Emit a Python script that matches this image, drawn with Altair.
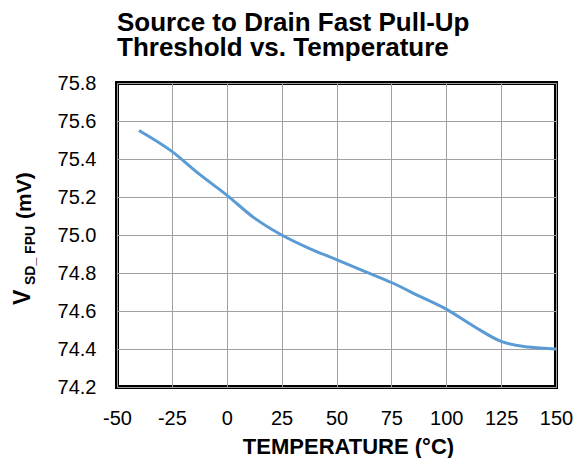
import altair as alt
import pandas as pd

temps = [-40, -25, -12.5, 0, 12.5, 25, 37.5, 50, 62.5, 75, 87.5, 100, 112.5, 125, 137.5, 150]
vsd = [75.55, 75.44, 75.32, 75.21, 75.09, 75.00, 74.93, 74.87, 74.81, 74.75, 74.68, 74.61, 74.52, 74.44, 74.41, 74.40]
x_ticks = [-50, -25, 0, 25, 50, 75, 100, 125, 150]
y_ticks = [74.2, 74.4, 74.6, 74.8, 75.0, 75.2, 75.4, 75.6, 75.8]
title_lines = ["Source to Drain Fast Pull-Up", "Threshold vs. Temperature"]

df = pd.DataFrame({"temp": temps, "v": vsd})
FONT = "Liberation Sans"

line = alt.Chart(df).mark_line(color="#5b9bd5", strokeWidth=3, interpolate="monotone").encode(
    x=alt.X("temp:Q", scale=alt.Scale(domain=[-50, 150], nice=False),
            axis=alt.Axis(values=x_ticks, labelExpr="'' + datum.value", title="TEMPERATURE (°C)",
                          titleFont=FONT, titleFontSize=22, titleFontWeight="bold", titleColor="black",
                          titleX=231, titleY=66, titleBaseline="alphabetic", titleAlign="center",
                          labelFont=FONT, labelFontSize=20, labelColor="black", labelPadding=21,
                          labelFlush=False, labelOverlap=False,
                          ticks=False, domain=False, grid=True, gridColor="#a0a0a0", gridWidth=1)),
    y=alt.Y("v:Q", scale=alt.Scale(domain=[74.2, 75.8], nice=False, zero=False),
            axis=alt.Axis(values=y_ticks, format=".1f", title=None,
                          labelFont=FONT, labelFontSize=20, labelColor="black", labelPadding=21,
                          labelOverlap=False,
                          ticks=False, domain=False, grid=True, gridColor="#a0a0a0", gridWidth=1)),
)

def ytxt(t, x, y, size):
    return alt.Chart(pd.DataFrame({"t": [t]})).mark_text(
        angle=270, align="left", baseline="alphabetic", font=FONT, fontSize=size,
        fontWeight="bold", color="black").encode(
        x=alt.value(x), y=alt.value(y), text="t:N")

yt_v = ytxt("V", -87, 222, 23)
yt_sub = ytxt("SD_ FPU", -82, 202, 14)
yt_mv = ytxt("(mV)", -86, 136, 21)

title = alt.Chart(pd.DataFrame({"t": ["\n".join(title_lines)]})).mark_text(
    align="left", baseline="alphabetic", font=FONT, fontSize=26, fontWeight="bold",
    color="black", lineBreak="\n", lineHeight=25).encode(
    x=alt.value(0), y=alt.value(-52), text="t:N")

chart = alt.layer(line, yt_v, yt_sub, yt_mv, title).properties(
    width=439, height=304,
    autosize=alt.AutoSizeParams(type="none"),
    padding={"left": 109, "top": 75, "right": 18, "bottom": 71},
).configure_view(stroke="black", strokeWidth=4)

chart.save("out.html", embed_options={"renderer": "svg", "actions": False})
